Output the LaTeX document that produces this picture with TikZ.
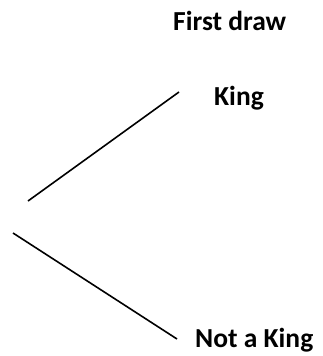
\documentclass[tikz,border=0pt]{standalone}
\usepackage{fontspec}
\setmainfont{Carlito}
\begin{document}
\begin{tikzpicture}[x=1pt,y=-1pt,
  lbl/.style={font=\bfseries\fontsize{27.5}{30}\selectfont, anchor=base west, inner sep=0pt},
  branch/.style={line width=1.6pt, black}]
\useasboundingbox (0,0) rectangle (323,356);
\node[lbl] (title) at (173,30) {First draw};
\node[lbl] (king) at (214,105) {King};
\node[lbl] (notking) at (195,347) {Not a King};
\coordinate (a1) at (28,201);
\coordinate (a2) at (179,92);
\coordinate (b1) at (13,233);
\coordinate (b2) at (177,339);
\draw[branch] (a1) -- (a2);
\draw[branch] (b1) -- (b2);
\end{tikzpicture}
\end{document}
